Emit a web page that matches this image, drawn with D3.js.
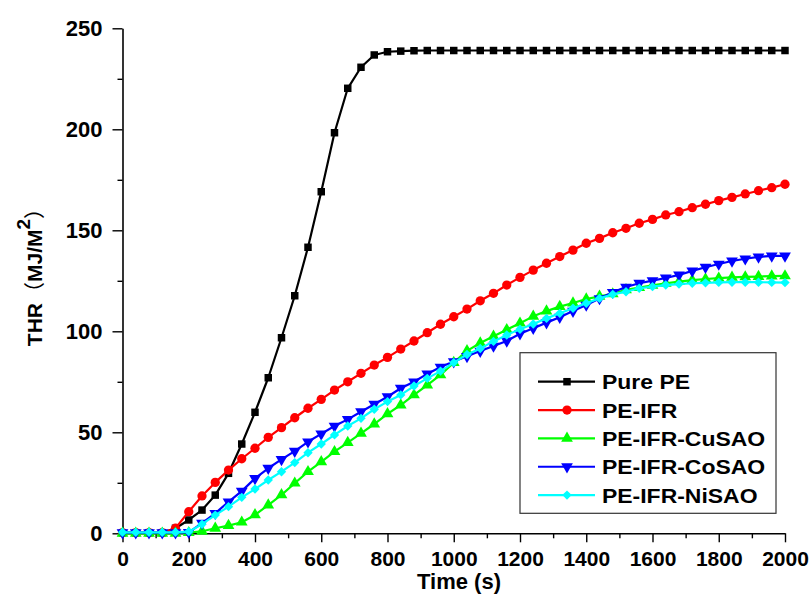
<!DOCTYPE html>
<html><head><meta charset="utf-8">
<script src="https://cdn.jsdelivr.net/npm/d3@7/dist/d3.min.js"></script>
<style>body{margin:0;background:#fff}svg{display:block}</style>
</head><body>
<svg id="chart" width="812" height="594"></svg>
<script>
const times = [0,40,80,120,160,200,240,280,320,360,400,440,480,520,560,600,640,680,720,760,800,840,880,920,960,1000,1040,1080,1120,1160,1200,1240,1280,1320,1360,1400,1440,1480,1520,1560,1600,1640,1680,1720,1760,1800,1840,1880,1920,1960,2000];
const purePE = [0.3,0.3,0.3,0.3,2.5,6.6,11.5,18.9,29.7,44.2,59.9,77,96.8,117.6,141.6,169.1,198.3,220.3,230.7,236.8,238.4,238.7,238.9,239,239,239,239,239,239,239,239,239,239,239,239,239,239,239,239,239,239,239,239,239,239,239,239,239,239,239,239];
const peIFR = [0.3,0.3,0.3,0.3,2.5,10.7,18.5,25.2,31.3,36.9,42.1,47.5,52.3,57.2,61.9,66.3,70.9,75,79.2,83.3,87.1,91.2,95.2,99.3,103.5,107.2,111,115.1,118.8,122.9,126.7,130.3,133.7,137,140.2,143.6,146,148.8,151,153.5,155.4,157.6,159.2,161.2,162.9,164.7,166.3,168,169.6,171.1,172.8];
const peCuSAO = [0,0,0,0,0,0.3,1,2.5,3.8,5.5,9.1,14,19,24.8,30.5,35.4,40.4,44.9,49.5,54.1,59.1,63.5,68.5,73.4,78.4,84.5,90.3,94.2,97.5,100.8,104,107.4,110,112.2,114,116,117.3,118.5,120.5,121.6,122.7,123.7,124.6,125.3,125.9,126.3,126.7,126.9,127.1,127.3,127.4];
const peCoSAO = [0.3,0.3,0.3,0.3,0.3,0.5,5,9.9,15.6,20.9,27.2,32.2,36.6,40.7,45.3,49.2,53.1,56.4,60.2,63.9,67.6,71.8,75,78.9,82.3,85,87.6,90.2,92.7,95.2,98.8,101.5,104.3,107,110,113,116.2,119.3,121.9,123.8,125.1,126.4,127.9,129.9,131.7,133.3,134.8,135.9,136.8,137.3,137.3];
const peNiSAO = [0.5,0.5,0.5,0.5,0.5,0.8,4.5,9,13.2,17.8,21.9,26.4,30.5,35,39.9,44.2,48.7,53.1,56.9,61.4,65.2,68.5,72.9,76.7,80.3,84.5,88.5,91.5,95,98.2,101,103.6,106.4,108.9,111.4,113.9,116.3,118.3,119.6,121.3,122.1,122.9,123.4,123.8,124,124.2,124.3,124.3,124.3,124.2,124.1];
const seriesNames = ["Pure PE","PE-IFR","PE-IFR-CuSAO","PE-IFR-CoSAO","PE-IFR-NiSAO"];
const seriesValues = [purePE, peIFR, peCuSAO, peCoSAO, peNiSAO];
const seriesColors = ["#000000","#ff0000","#00ff00","#0000ff","#00ffff"];
const seriesMarkers = ["square","circle","triangleUp","triangleDown","diamond"];
const xTicks = [0,200,400,600,800,1000,1200,1400,1600,1800,2000];
const xMinorTicks = [100,300,500,700,900,1100,1300,1500,1700,1900];
const yTicks = [0,50,100,150,200,250];
const yMinorTicks = [25,75,125,175,225];
const xTitle = "Time (s)";

const svg = d3.select("#chart");
const FONT = "'Liberation Sans', Arial, Helvetica, sans-serif";
const x = d3.scaleLinear().domain([0,2000]).range([122.5,785]);
const y = d3.scaleLinear().domain([0,250]).range([533.3,28.3]);

function styleAxis(g, fs){
  g.selectAll(".domain").attr("stroke","#000").attr("stroke-width",1.6);
  g.selectAll(".tick line").attr("stroke","#000").attr("stroke-width",1.4);
  g.selectAll("text").attr("font-family",FONT).attr("font-weight","bold").attr("font-size",fs||"21px").attr("fill","#000");
}
// minor ticks
svg.append("g").attr("transform",`translate(0,${y(0)})`)
  .call(d3.axisBottom(x).tickValues(xMinorTicks).tickSize(5).tickFormat(""))
  .call(g=>{g.select(".domain").remove(); styleAxis(g);});
svg.append("g").attr("transform",`translate(${x(0)},0)`)
  .call(d3.axisLeft(y).tickValues(yMinorTicks).tickSize(5).tickFormat(""))
  .call(g=>{g.select(".domain").remove(); styleAxis(g);});
// major
svg.append("g").attr("transform",`translate(0,${y(0)})`)
  .call(d3.axisBottom(x).tickValues(xTicks).tickSize(9).tickSizeOuter(0).tickPadding(9).tickFormat(d3.format("d")))
  .call(g=>styleAxis(g,"21px"));
svg.append("g").attr("transform",`translate(${x(0)},0)`)
  .call(d3.axisLeft(y).tickValues(yTicks).tickSize(10).tickSizeOuter(0).tickPadding(10).tickFormat(d3.format("d")))
  .call(g=>styleAxis(g,"22px"));

// axis titles
svg.append("text").attr("x",459).attr("y",589).attr("text-anchor","middle")
  .attr("font-family",FONT).attr("font-weight","bold").attr("font-size","22px").text(xTitle);
const yt = svg.append("text").attr("transform","translate(42,272) rotate(-90)").attr("text-anchor","middle")
  .attr("font-family",FONT).attr("font-weight","bold").attr("font-size","21px");
yt.append("tspan").text("THR");
yt.append("tspan").attr("font-family","'Noto Sans CJK SC', "+FONT).attr("font-weight","normal").text("（");
yt.append("tspan").text("MJ/M");
yt.append("tspan").attr("dy",-12).attr("font-size","19px").text("2");
yt.append("tspan").attr("dy",12).attr("font-family","'Noto Sans CJK SC', "+FONT).attr("font-weight","normal").text("）");

function markerPath(kind){
  if(kind==="square") return d3.symbol().type(d3.symbolSquare).size(56)();
  if(kind==="circle") return d3.symbol().type(d3.symbolCircle).size(68)();
  if(kind==="triangleUp"||kind==="triangleDown") return d3.symbol().type(d3.symbolTriangle).size(60)();
  return d3.symbol().type(d3.symbolSquare).size(44)();
}
function markerRot(kind){
  if(kind==="triangleDown") return " rotate(180)";
  if(kind==="diamond") return " rotate(45)";
  return "";
}
const line = d3.line().x(d=>x(d[0])).y(d=>y(d[1]));
seriesValues.forEach((vals,i)=>{
  const pts = times.map((t,j)=>[t,vals[j]]);
  const g = svg.append("g");
  g.append("path").datum(pts).attr("d",line).attr("fill","none")
    .attr("stroke",seriesColors[i]).attr("stroke-width",2.2).attr("stroke-linejoin","round");
  g.selectAll("path.m").data(pts).enter().append("path").attr("class","m")
    .attr("d",markerPath(seriesMarkers[i]))
    .attr("transform",d=>`translate(${x(d[0])},${y(d[1])})${markerRot(seriesMarkers[i])}`)
    .attr("fill",seriesColors[i]);
});

// legend
const lg = svg.append("g");
lg.append("rect").attr("x",520).attr("y",352.7).attr("width",256).attr("height",160.6)
  .attr("fill","#fff").attr("stroke","#333").attr("stroke-width",1.2);
seriesNames.forEach((name,i)=>{
  const yy = 381.7 + i*28.35;
  lg.append("line").attr("x1",538).attr("x2",595).attr("y1",yy).attr("y2",yy)
    .attr("stroke",seriesColors[i]).attr("stroke-width",2.2);
  lg.append("path").attr("d",markerPath(seriesMarkers[i]))
    .attr("transform",`translate(567,${yy})${markerRot(seriesMarkers[i])}`).attr("fill",seriesColors[i]);
  lg.append("text").attr("transform",`translate(602,${yy+7.5}) scale(1.12,1)`)
    .attr("font-family",FONT).attr("font-weight","bold").attr("font-size","20.5px").text(name);
});
</script>
</body></html>
